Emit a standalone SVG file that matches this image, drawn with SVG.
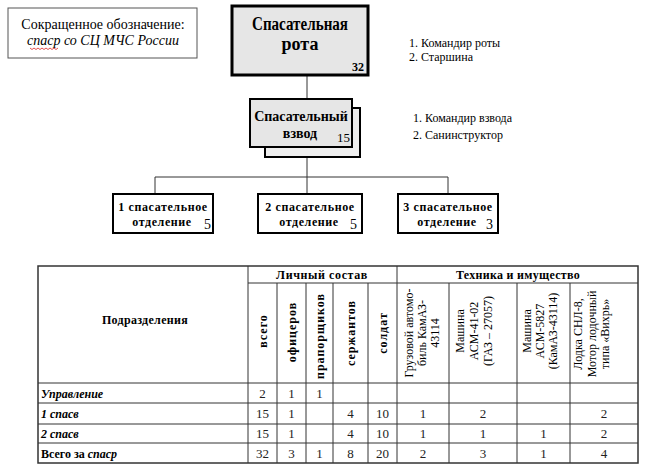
<svg xmlns="http://www.w3.org/2000/svg" width="647" height="466" viewBox="0 0 647 466" font-family="'Liberation Serif', 'DejaVu Serif', serif">
<style>
text{font-family:'Liberation Serif','DejaVu Serif',serif;fill:#000}
.b{font-weight:bold}
.i{font-style:italic}
.m{text-anchor:middle}
.e{text-anchor:end}
.gbox{fill:#e6e6e6;stroke:#000}
.wbox{fill:#fff;stroke:#000;stroke-width:2}
.conn{stroke:#333;stroke-width:1;fill:none}
.tl{stroke:#333;stroke-width:1;fill:none}
.dep{font-size:12px;font-weight:bold;letter-spacing:0.6px;text-anchor:middle}
.num{font-size:13px;text-anchor:middle;fill:#222}
.lbl{font-size:12px;font-weight:bold}
.hr{font-size:12px;font-weight:bold;letter-spacing:1px;text-anchor:middle}
.tr{font-size:12px;text-anchor:middle}
.side{font-size:12px}
</style>
<rect width="647" height="466" fill="#fff"/>

<g id="legend">
<rect x="8" y="8" width="189" height="50" fill="#fff" stroke="#555" stroke-width="1"/>
<text x="103" y="29" class="m" font-size="14">Сокращенное обозначение:</text>
<text x="103" y="45" class="m i" font-size="14">спаср со СЦ МЧС России</text>
<path d="M30,48 l2,1.5 l2,-1.5 l2,1.5 l2,-1.5 l2,1.5 l2,-1.5 l2,1.5 l2,-1.5 l2,1.5 l2,-1.5 l2,1.5 l2,-1.5 l2,1.5 l2,-1.5" fill="none" stroke="#d22" stroke-width="0.8"/>
</g>

<g id="connectors">
<path class="conn" d="M307,75 V99"/>
<path class="conn" d="M307,157 V177"/>
<path class="conn" d="M155,177 H448"/>
<path class="conn" d="M155,177 V194"/>
<path class="conn" d="M307,177 V194"/>
<path class="conn" d="M448,177 V194"/>
</g>

<g id="company">
<rect x="232" y="6" width="136" height="69" class="gbox" stroke-width="3"/>
<text x="300" y="30" class="m b" font-size="18" textLength="96" lengthAdjust="spacingAndGlyphs">Спасательная</text>
<text x="300" y="50" class="m b" font-size="18">рота</text>
<text x="364" y="71" class="e b" font-size="12">32</text>
</g>
<g id="company-staff">
<text x="409" y="47" class="side">1. Командир роты</text>
<text x="409" y="61" class="side">2. Старшина</text>
</g>

<g id="platoon">
<rect x="265" y="108" width="95" height="49" fill="#eeeeee" stroke="#000" stroke-width="2"/>
<rect x="250" y="99" width="102" height="48" class="gbox" stroke-width="2"/>
<text x="301" y="121" class="m b" font-size="14">Спасательный</text>
<text x="300" y="138" class="m b" font-size="14">взвод</text>
<text x="337" y="142" font-size="13">15</text>
</g>
<g id="platoon-staff">
<text x="413" y="122" class="side">1. Командир взвода</text>
<text x="413" y="139" class="side">2. Санинструктор</text>
</g>

<g id="squad1">
<rect x="113" y="194" width="100" height="39" class="wbox"/>
<text x="163" y="211" class="dep">1 спасательное</text>
<text x="162" y="226" class="dep">отделение</text>
<text x="204" y="229" font-size="14">5</text>
</g>
<g id="squad2">
<rect x="258" y="194" width="104" height="39" class="wbox"/>
<text x="310" y="211" class="dep">2 спасательное</text>
<text x="309" y="226" class="dep">отделение</text>
<text x="350" y="229" font-size="14">5</text>
</g>
<g id="squad3">
<rect x="398" y="194" width="100" height="39" class="wbox"/>
<text x="448" y="211" class="dep">3 спасательное</text>
<text x="447" y="226" class="dep">отделение</text>
<text x="486" y="229" font-size="14">3</text>
</g>

<g id="table">
<rect x="38" y="266" width="600" height="197" fill="#fff" stroke="#333" stroke-width="1.5"/>
<path class="tl" d="M248,266 V463 M397,266 V463 M248,283 H638 M277,283 V463 M306,283 V463 M333,283 V463 M368,283 V463 M449,283 V463 M517,283 V463 M570,283 V463 M38,383 H638 M38,403 H638 M38,424 H638 M38,443 H638"/>
<text x="145" y="324" class="m b" font-size="12" letter-spacing="0.3">Подразделения</text>
<text x="322" y="279" class="m b" font-size="12" letter-spacing="0.6">Личный состав</text>
<text x="518" y="279" class="m b" font-size="12" letter-spacing="0.3">Техника и имущество</text>

<text class="hr" transform="translate(262.5,331) rotate(-90)" y="4">всего</text>
<text class="hr" transform="translate(291.5,332) rotate(-90)" y="4">офицеров</text>
<text class="hr" transform="translate(319.5,336) rotate(-90)" y="4">прапорщиков</text>
<text class="hr" transform="translate(350.5,333) rotate(-90)" y="4">сержантов</text>
<text class="hr" transform="translate(382.5,333) rotate(-90)" y="4">солдат</text>

<text class="tr" transform="translate(409,333) rotate(-90)"><tspan x="0" y="4">Грузовой автомо-</tspan><tspan x="0" dy="13">биль КамАЗ-</tspan><tspan x="0" dy="13">43114</tspan></text>
<text class="tr" transform="translate(460,331) rotate(-90)"><tspan x="0" y="4">Машина</tspan><tspan x="0" dy="14">АСМ-41-02</tspan><tspan x="0" dy="14">(ГАЗ – 27057)</tspan></text>
<text class="tr" transform="translate(527,331) rotate(-90)"><tspan x="0" y="4">Машина</tspan><tspan x="0" dy="13">АСМ-5827</tspan><tspan x="0" dy="13">(КамАЗ-43114)</tspan></text>
<text class="tr" transform="translate(578,334) rotate(-90)"><tspan x="0" y="4">Лодка СНЛ-8,</tspan><tspan x="0" dy="13.5">Мотор лодочный</tspan><tspan x="0" dy="13.5">типа «Вихрь»</tspan></text>

<text x="41" y="398" class="lbl i">Управление</text>
<text x="41" y="418" class="lbl i">1 спасв</text>
<text x="41" y="438" class="lbl i">2 спасв</text>
<text x="41" y="458" class="lbl">Всего за <tspan class="i">спаср</tspan></text>

<text class="num" x="262.5" y="398">2</text>
<text class="num" x="291.5" y="398">1</text>
<text class="num" x="319.5" y="398">1</text>

<text class="num" x="262.5" y="418">15</text>
<text class="num" x="291.5" y="418">1</text>
<text class="num" x="350.5" y="418">4</text>
<text class="num" x="382.5" y="418">10</text>
<text class="num" x="423" y="418">1</text>
<text class="num" x="483" y="418">2</text>
<text class="num" x="604" y="418">2</text>

<text class="num" x="262.5" y="438">15</text>
<text class="num" x="291.5" y="438">1</text>
<text class="num" x="350.5" y="438">4</text>
<text class="num" x="382.5" y="438">10</text>
<text class="num" x="423" y="438">1</text>
<text class="num" x="483" y="438">1</text>
<text class="num" x="543.5" y="438">1</text>
<text class="num" x="604" y="438">2</text>

<text class="num" x="262.5" y="458">32</text>
<text class="num" x="291.5" y="458">3</text>
<text class="num" x="319.5" y="458">1</text>
<text class="num" x="350.5" y="458">8</text>
<text class="num" x="382.5" y="458">20</text>
<text class="num" x="423" y="458">2</text>
<text class="num" x="483" y="458">3</text>
<text class="num" x="543.5" y="458">1</text>
<text class="num" x="604" y="458">4</text>
</g>
</svg>
